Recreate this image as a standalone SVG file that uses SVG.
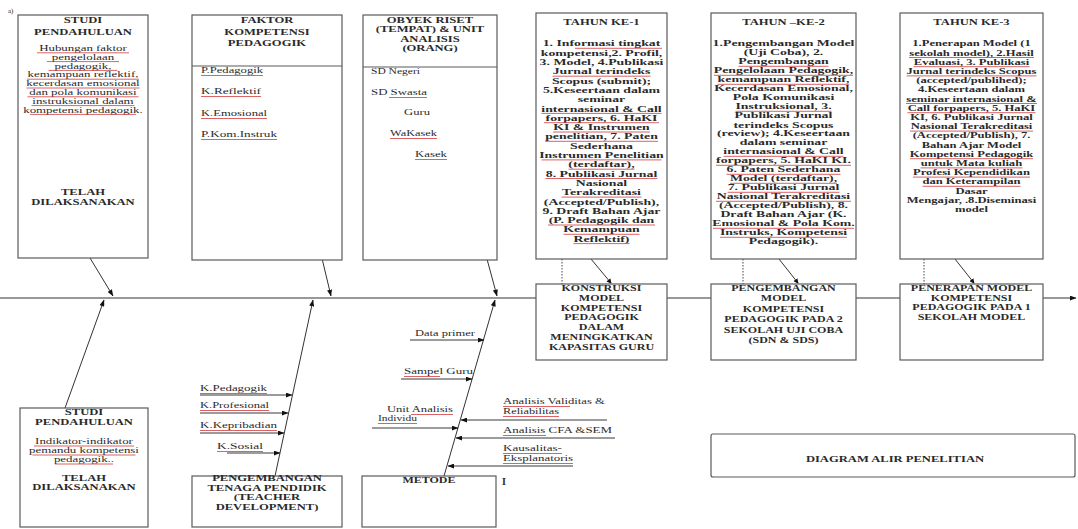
<svg xmlns="http://www.w3.org/2000/svg" width="1078" height="529" viewBox="0 0 1078 529">
<defs>
<marker id="ah" viewBox="0 0 8 6" refX="7.5" refY="3" markerWidth="7" markerHeight="5" markerUnits="userSpaceOnUse" orient="auto"><path d="M0,0 L8,3 L0,6 Z" fill="#111"/></marker>
<marker id="sq" viewBox="0 0 6 6" refX="5" refY="3" markerWidth="5" markerHeight="5" markerUnits="userSpaceOnUse" orient="auto"><path d="M0,0 L6,3 L0,6 Z" fill="#111"/></marker>
</defs>
<style>
.box{fill:#fff;stroke:#5a5a5a;stroke-width:1.2}
.t{font-family:"Liberation Serif","Times New Roman",serif;fill:#2a2a2a}
.ti{font-size:8.4px;font-weight:bold;text-anchor:middle}
.y1{font-size:9.2px;font-weight:bold;text-anchor:middle}
.y3{font-size:8.4px;font-weight:bold;text-anchor:middle}
.pt{font-size:8px;font-weight:bold;text-anchor:middle}
.par{font-size:8.6px;text-anchor:middle}
.lb{font-size:8.2px}
.ln{stroke:#222;stroke-width:0.9;fill:none}
.dg{stroke:#333;stroke-width:1;fill:none}
.dt{stroke:#444;stroke-width:1;stroke-dasharray:1.5 1.5;fill:none}
.rd{stroke:#d23b3b;stroke-width:0.8;fill:none}
</style>
<rect width="1078" height="529" fill="#fff"/>
<text class="t" x="8" y="13" font-size="7" fill="#555">a)</text>

<g id="connectors">
<line class="dg" x1="0" y1="298" x2="536" y2="298"/>
<line class="dg" x1="667" y1="298" x2="711" y2="298"/>
<line class="dg" x1="856" y1="298" x2="900" y2="298"/>
<line class="dg" x1="1043" y1="298" x2="1076" y2="298" marker-end="url(#ah)"/>
<line class="dg" x1="90" y1="258" x2="113" y2="296" marker-end="url(#ah)"/>
<line class="dg" x1="276" y1="66" x2="331" y2="296" marker-end="url(#ah)"/>
<line class="dg" x1="435" y1="67" x2="497" y2="296" marker-end="url(#ah)"/>
<line class="dg" x1="65" y1="408" x2="104" y2="300" marker-end="url(#ah)"/>
<line class="dg" x1="275" y1="476" x2="313" y2="300" marker-end="url(#ah)"/>
<line class="dg" x1="444" y1="476" x2="495" y2="300" marker-end="url(#ah)"/>
<line class="ln" x1="203" y1="78" x2="279" y2="78" marker-end="url(#ah)"/>
<line class="ln" x1="203" y1="99" x2="284" y2="99" marker-end="url(#ah)"/>
<line class="ln" x1="203" y1="123" x2="289" y2="123" marker-end="url(#ah)"/>
<line class="ln" x1="203" y1="142" x2="294" y2="142" marker-end="url(#ah)"/>
<line class="ln" x1="371" y1="78" x2="438" y2="78" marker-end="url(#ah)"/>
<line class="ln" x1="371" y1="100" x2="444" y2="100" marker-end="url(#ah)"/>
<line class="ln" x1="402" y1="118" x2="448" y2="118" marker-end="url(#ah)"/>
<line class="ln" x1="390" y1="142" x2="455" y2="142" marker-end="url(#ah)"/>
<line class="ln" x1="408" y1="162" x2="460" y2="162" marker-end="url(#ah)"/>
<line class="ln" x1="200" y1="395" x2="292" y2="395" marker-end="url(#ah)"/>
<line class="ln" x1="200" y1="413" x2="288" y2="413" marker-end="url(#ah)"/>
<line class="ln" x1="200" y1="433" x2="284" y2="433" marker-end="url(#ah)"/>
<line class="ln" x1="227" y1="453" x2="280" y2="453" marker-end="url(#ah)"/>
<line class="ln" x1="410" y1="340" x2="484" y2="340" marker-end="url(#ah)"/>
<line class="ln" x1="401" y1="379" x2="472" y2="379" marker-end="url(#ah)"/>
<line class="ln" x1="372" y1="428" x2="458" y2="428" marker-end="url(#ah)"/>
<line class="ln" x1="607" y1="420" x2="461" y2="420" marker-end="url(#ah)"/>
<line class="ln" x1="615" y1="438" x2="456" y2="438" marker-end="url(#ah)"/>
<line class="ln" x1="573" y1="466" x2="448" y2="466" marker-end="url(#ah)"/>
<line class="dt" x1="562" y1="259" x2="562" y2="284"/>
<line class="dg" x1="591" y1="259" x2="611" y2="283" marker-end="url(#sq)"/>
<line class="dt" x1="743" y1="259" x2="743" y2="284"/>
<line class="dg" x1="779" y1="259" x2="798" y2="283" marker-end="url(#sq)"/>
<line class="dt" x1="924" y1="259" x2="924" y2="284"/>
<line class="dg" x1="955" y1="259" x2="974" y2="283" marker-end="url(#sq)"/>
</g>

<g id="studi-pendahuluan-1">
<rect class="box" x="18" y="15" width="130" height="243"/>
<g transform="matrix(1.5 0 0 1 -41.5 0)">
<text class="t ti" x="83" y="23">STUDI</text>
<text class="t ti" x="83" y="35">PENDAHULUAN</text>
<text class="t par"><tspan x="83" y="51">Hubungan faktor</tspan><tspan x="83" dy="8.8">pengelolaan</tspan><tspan x="83" dy="8.8">pedagogik,</tspan><tspan x="83" dy="8.8">kemampuan reflektif,</tspan><tspan x="83" dy="8.8">kecerdasan emosional</tspan><tspan x="83" dy="8.8">dan pola komunikasi</tspan><tspan x="83" dy="8.8">instruksional dalam</tspan><tspan x="83" dy="8.8">kompetensi pedagogik.</tspan></text>
<text class="t ti" x="83" y="195">TELAH</text>
<text class="t ti" x="83" y="205">DILAKSANAKAN</text>
</g>
<path class="rd" d="M37 52.8H129M47 61.6H119M48.5 70.4H117.5M27 79.2H139M26.5 88H139.5M27.5 96.8H138.5M31.5 105.6H134.5M30 114.4H136"/>
</g>

<g id="faktor-kompetensi">
<rect class="box" x="192" y="15" width="150" height="245"/>
<line class="box" x1="192" y1="66" x2="342" y2="66"/>
<g transform="matrix(1.5 0 0 1 -133.5 0)">
<text class="t ti" x="267" y="23">FAKTOR</text>
<text class="t ti" x="267" y="35">KOMPETENSI</text>
<text class="t ti" x="267" y="46">PEDAGOGIK</text>
</g>
<text class="t lb" x="201" y="73" textLength="62" lengthAdjust="spacingAndGlyphs">P.Pedagogik</text>
<text class="t lb" x="201" y="94" textLength="60" lengthAdjust="spacingAndGlyphs">K.Reflektif</text>
<text class="t lb" x="201" y="116" textLength="66" lengthAdjust="spacingAndGlyphs">K.Emosional</text>
<text class="t lb" x="201" y="137" textLength="76" lengthAdjust="spacingAndGlyphs">P.Kom.Instruk</text>
<path class="rd" d="M201 75.5H263M201 96.5H261M201 118.5H267M201 139.5H277"/>
</g>

<g id="obyek-riset">
<rect class="box" x="363" y="15" width="134" height="245"/>
<line class="box" x1="363" y1="67" x2="497" y2="67"/>
<g transform="matrix(1.5 0 0 1 -215 0)">
<text class="t ti" x="430" y="23">OBYEK RISET</text>
<text class="t ti" x="430" y="32.5">(TEMPAT) &amp; UNIT</text>
<text class="t ti" x="430" y="42">ANALISIS</text>
<text class="t ti" x="430" y="51.5">(ORANG)</text>
</g>
<text class="t lb" x="371" y="74" textLength="49" lengthAdjust="spacingAndGlyphs">SD Negeri</text>
<text class="t lb" x="371" y="95" textLength="56" lengthAdjust="spacingAndGlyphs">SD Swasta</text>
<text class="t lb" x="404" y="115" textLength="26" lengthAdjust="spacingAndGlyphs">Guru</text>
<text class="t lb" x="390" y="136" textLength="47" lengthAdjust="spacingAndGlyphs">WaKasek</text>
<text class="t lb" x="415" y="157" textLength="32" lengthAdjust="spacingAndGlyphs">Kasek</text>
<path class="rd" d="M389 97.5H427M390 138.5H437M415 159.5H447"/>
</g>

<g id="tahun-1">
<rect class="box" x="536" y="13" width="131" height="246"/>
<g transform="matrix(1.5 0 0 1 -300.75 0)">
<text class="t ti" x="601.5" y="25">TAHUN KE-1</text>
<text class="t y1"><tspan x="601.5" y="46.5">1. Informasi  tingkat</tspan><tspan x="601.5" dy="9.3">kompetensi,2. Profil,</tspan><tspan x="601.5" dy="9.3">3. Model, 4.Publikasi</tspan><tspan x="601.5" dy="9.3">Jurnal terindeks</tspan><tspan x="601.5" dy="9.3">Scopus (submit);</tspan><tspan x="601.5" dy="9.3">5.Keseertaan dalam</tspan><tspan x="601.5" dy="9.3">seminar</tspan><tspan x="601.5" dy="9.3">internasional &amp; Call</tspan><tspan x="601.5" dy="9.3">forpapers, 6. HaKI</tspan><tspan x="601.5" dy="9.3">KI &amp; Instrumen</tspan><tspan x="601.5" dy="9.3">penelitian, 7. Paten</tspan><tspan x="601.5" dy="9.3">Sederhana</tspan><tspan x="601.5" dy="9.3">Instrumen Penelitian</tspan><tspan x="601.5" dy="9.3">(terdaftar),</tspan><tspan x="601.5" dy="9.3">8. Publikasi Jurnal</tspan><tspan x="601.5" dy="9.3">Nasional</tspan><tspan x="601.5" dy="9.3">Terakreditasi</tspan><tspan x="601.5" dy="9.3">(Accepted/Publish),</tspan><tspan x="601.5" dy="9.3">9. Draft Bahan Ajar</tspan><tspan x="601.5" dy="9.3">(P. Pedagogik dan</tspan><tspan x="601.5" dy="9.3">Kemampuan</tspan><tspan x="601.5" dy="9.3">Reflektif)</tspan></text>
</g>
<path class="rd" d="M575 48.3H662M552.5 76.2H650.5M541.5 113.4H661.5M544 122.7H659M553 132H650M545 141.3H658M541.5 159.9H661.5M568.5 169.2H634.5M545.5 178.5H657.5M561.5 197.1H641.5M548 225H655M563.5 234.3H639.5M573.5 243.6H629.5"/>
</g>

<g id="tahun-2">
<rect class="box" x="711" y="13" width="145" height="246"/>
<g transform="matrix(1.5 0 0 1 -391.75 0)">
<text class="t ti" x="783.5" y="25">TAHUN –KE-2</text>
<text class="t y1"><tspan x="783.5" y="46.5">1.Pengembangan Model</tspan><tspan x="783.5" dy="9">(Uji Coba), 2.</tspan><tspan x="783.5" dy="9">Pengembangan</tspan><tspan x="783.5" dy="9">Pengelolaan Pedagogik,</tspan><tspan x="783.5" dy="9">kemampuan Reflektif,</tspan><tspan x="783.5" dy="9">Kecerdasan Emosional,</tspan><tspan x="783.5" dy="9">Pola Komunikasi</tspan><tspan x="783.5" dy="9">Instruksional, 3.</tspan><tspan x="783.5" dy="9">Publikasi Jurnal</tspan><tspan x="783.5" dy="9">terindeks Scopus</tspan><tspan x="783.5" dy="9">(review); 4.Keseertaan</tspan><tspan x="783.5" dy="9">dalam seminar</tspan><tspan x="783.5" dy="9">internasional &amp; Call</tspan><tspan x="783.5" dy="9">forpapers, 5. HaKI KI.</tspan><tspan x="783.5" dy="9">6. Paten Sederhana</tspan><tspan x="783.5" dy="9">Model (terdaftar),</tspan><tspan x="783.5" dy="9">7. Publikasi Jurnal</tspan><tspan x="783.5" dy="9">Nasional Terakreditasi</tspan><tspan x="783.5" dy="9">(Accepted/Publish), 8.</tspan><tspan x="783.5" dy="9">Draft Bahan Ajar (K.</tspan><tspan x="783.5" dy="9">Emosional &amp; Pola Kom.</tspan><tspan x="783.5" dy="9">Instruks, Kompetensi</tspan><tspan x="783.5" dy="9">Pedagogik).</tspan></text>
</g>
<path class="rd" d="M738.5 66.3H828.5M714 75.3H853M717.5 84.3H849.5M735.5 111.3H831.5M723.5 156.3H843.5M716 165.3H851M726.5 174.3H840.5M730 183.3H837M727.5 192.3H839.5M716 201.3H851M713 228.3H854M720 237.3H847"/>
</g>

<g id="tahun-3">
<rect class="box" x="900" y="13" width="143" height="246"/>
<g transform="matrix(1.5 0 0 1 -485.75 0)">
<text class="t ti" x="971.5" y="25">TAHUN KE-3</text>
<text class="t y3"><tspan x="971.5" y="46.5">1.Penerapan  Model (1</tspan><tspan x="971.5" dy="9.2">sekolah model), 2.Hasil</tspan><tspan x="971.5" dy="9.2">Evaluasi, 3. Publikasi</tspan><tspan x="971.5" dy="9.2">Jurnal terindeks Scopus</tspan><tspan x="971.5" dy="9.2">(accepted/publihed);</tspan><tspan x="971.5" dy="9.2">4.Keseertaan dalam</tspan><tspan x="971.5" dy="9.2">seminar internasional &amp;</tspan><tspan x="971.5" dy="9.2">Call forpapers, 5. HaKI</tspan><tspan x="971.5" dy="9.2">KI, 6. Publikasi Jurnal</tspan><tspan x="971.5" dy="9.2">Nasional Terakreditasi</tspan><tspan x="971.5" dy="9.2">(Accepted/Publish), 7.</tspan><tspan x="971.5" dy="9.2">Bahan Ajar Model</tspan><tspan x="971.5" dy="9.2">Kompetensi Pedagogik</tspan><tspan x="971.5" dy="9.2">untuk Mata kuliah</tspan><tspan x="971.5" dy="9.2">Profesi Kependidikan</tspan><tspan x="971.5" dy="9.2">dan Keterampilan</tspan><tspan x="971.5" dy="9.2">Dasar</tspan><tspan x="971.5" dy="9.2">Mengajar, .8.Diseminasi</tspan><tspan x="971.5" dy="9.2">model</tspan></text>
</g>
<path class="rd" d="M909 57.5H1034M913.5 66.7H1029.5M906.5 75.9H1036.5M906 103.5H1037M907.5 112.7H1035.5M910 131.1H1033M910 158.7H1033M920.5 167.9H1022.5M913 177.1H1030M922.5 186.3H1020.5"/>
</g>

<g id="konstruksi-model">
<rect class="box" x="536" y="284" width="131" height="76"/>
<g transform="matrix(1.5 0 0 1 -300.75 0)">
<text class="t pt"><tspan x="601.5" y="291">KONSTRUKSI</tspan><tspan x="601.5" dy="9.8">MODEL</tspan><tspan x="601.5" dy="9.8">KOMPETENSI</tspan><tspan x="601.5" dy="9.8">PEDAGOGIK</tspan><tspan x="601.5" dy="9.8">DALAM</tspan><tspan x="601.5" dy="9.8">MENINGKATKAN</tspan><tspan x="601.5" dy="9.8">KAPASITAS GURU</tspan></text>
</g>
</g>

<g id="pengembangan-model">
<rect class="box" x="711" y="284" width="145" height="76"/>
<g transform="matrix(1.5 0 0 1 -391.75 0)">
<text class="t pt"><tspan x="783.5" y="291">PENGEMBANGAN</tspan><tspan x="783.5" dy="10.5">MODEL</tspan><tspan x="783.5" dy="10.5">KOMPETENSI</tspan><tspan x="783.5" dy="10.5">PEDAGOGIK PADA 2</tspan><tspan x="783.5" dy="10.5">SEKOLAH UJI COBA</tspan><tspan x="783.5" dy="10.5">(SDN &amp; SDS)</tspan></text>
</g>
</g>

<g id="penerapan-model">
<rect class="box" x="900" y="284" width="143" height="76"/>
<g transform="matrix(1.5 0 0 1 -485.75 0)">
<text class="t pt"><tspan x="971.5" y="291">PENERAPAN MODEL</tspan><tspan x="971.5" dy="9.6">KOMPETENSI</tspan><tspan x="971.5" dy="9.6">PEDAGOGIK PADA 1</tspan><tspan x="971.5" dy="9.6">SEKOLAH MODEL</tspan></text>
</g>
</g>

<g id="studi-pendahuluan-2">
<rect class="box" x="20" y="408" width="128" height="119"/>
<g transform="matrix(1.5 0 0 1 -42 0)">
<text class="t ti" x="84" y="415.5">STUDI</text>
<text class="t ti" x="84" y="425">PENDAHULUAN</text>
<text class="t par" font-size="8.4"><tspan x="84" y="444">Indikator-indikator</tspan><tspan x="84" dy="9">pemandu kompetensi</tspan><tspan x="84" dy="9">pedagogik..</tspan></text>
<text class="t ti" x="84" y="481">TELAH</text>
<text class="t ti" x="84" y="490.5">DILAKSANAKAN</text>
</g>
<path class="rd" d="M34 446H134M32.5 455H135.5M55 464H113"/>
</g>

<g id="pengembangan-tenaga-pendidik">
<rect class="box" x="192" y="476" width="150" height="51"/>
<g transform="matrix(1.5 0 0 1 -133.5 0)">
<text class="t ti"><tspan x="267" y="481">PENGEMBANGAN</tspan><tspan x="267" dy="9.7">TENAGA PENDIDIK</tspan><tspan x="267" dy="9.7">(TEACHER</tspan><tspan x="267" dy="9.7">DEVELOPMENT)</tspan></text>
</g>
<text class="t lb" x="200" y="391" textLength="67" lengthAdjust="spacingAndGlyphs">K.Pedagogik</text>
<text class="t lb" x="200" y="408" textLength="69" lengthAdjust="spacingAndGlyphs">K.Profesional</text>
<text class="t lb" x="200" y="428" textLength="77" lengthAdjust="spacingAndGlyphs">K.Kepribadian</text>
<text class="t lb" x="217" y="449" textLength="46" lengthAdjust="spacingAndGlyphs">K.Sosial</text>
<path class="rd" d="M200 393.5H267M200 410.5H269M200 430.5H277M217 451.5H263"/>
</g>

<g id="metode">
<rect class="box" x="362" y="476" width="134" height="51"/>
<g transform="matrix(1.5 0 0 1 -214.5 0)">
<text class="t pt" x="429" y="483">METODE</text>
</g>
<text class="t" x="502" y="485" font-size="10" font-weight="bold">I</text>
<text class="t lb" x="415" y="336" textLength="60" lengthAdjust="spacingAndGlyphs">Data primer</text>
<text class="t lb" x="404" y="374" textLength="69" lengthAdjust="spacingAndGlyphs">Sampel Guru</text>
<text class="t lb" x="387" y="412" textLength="66" lengthAdjust="spacingAndGlyphs">Unit Analisis</text>
<text class="t lb" x="378" y="421" textLength="39" lengthAdjust="spacingAndGlyphs">Individu</text>
<text class="t lb" x="503" y="404" textLength="102" lengthAdjust="spacingAndGlyphs">Analisis Validitas &amp;</text>
<text class="t lb" x="503" y="414" textLength="56" lengthAdjust="spacingAndGlyphs">Reliabilitas</text>
<text class="t lb" x="503" y="433" textLength="109" lengthAdjust="spacingAndGlyphs">Analisis CFA &amp;SEM</text>
<text class="t lb" x="503" y="451" textLength="59" lengthAdjust="spacingAndGlyphs">Kausalitas-</text>
<text class="t lb" x="503" y="461" textLength="70" lengthAdjust="spacingAndGlyphs">Eksplanatoris</text>
<path class="rd" d="M404 376.5H440M411 414.5H453M378 423.5H417M503 406.5H570M503 416.5H559M503 435.5H546M503 453.5H562M503 463.5H573"/>
</g>

<g id="diagram-alir">
<rect class="box" x="711" y="434" width="364" height="43" rx="2"/>
<g transform="matrix(1.5 0 0 1 -447.5 0)">
<text class="t ti" x="895" y="462">DIAGRAM ALIR PENELITIAN</text>
</g>
</g>
</svg>
